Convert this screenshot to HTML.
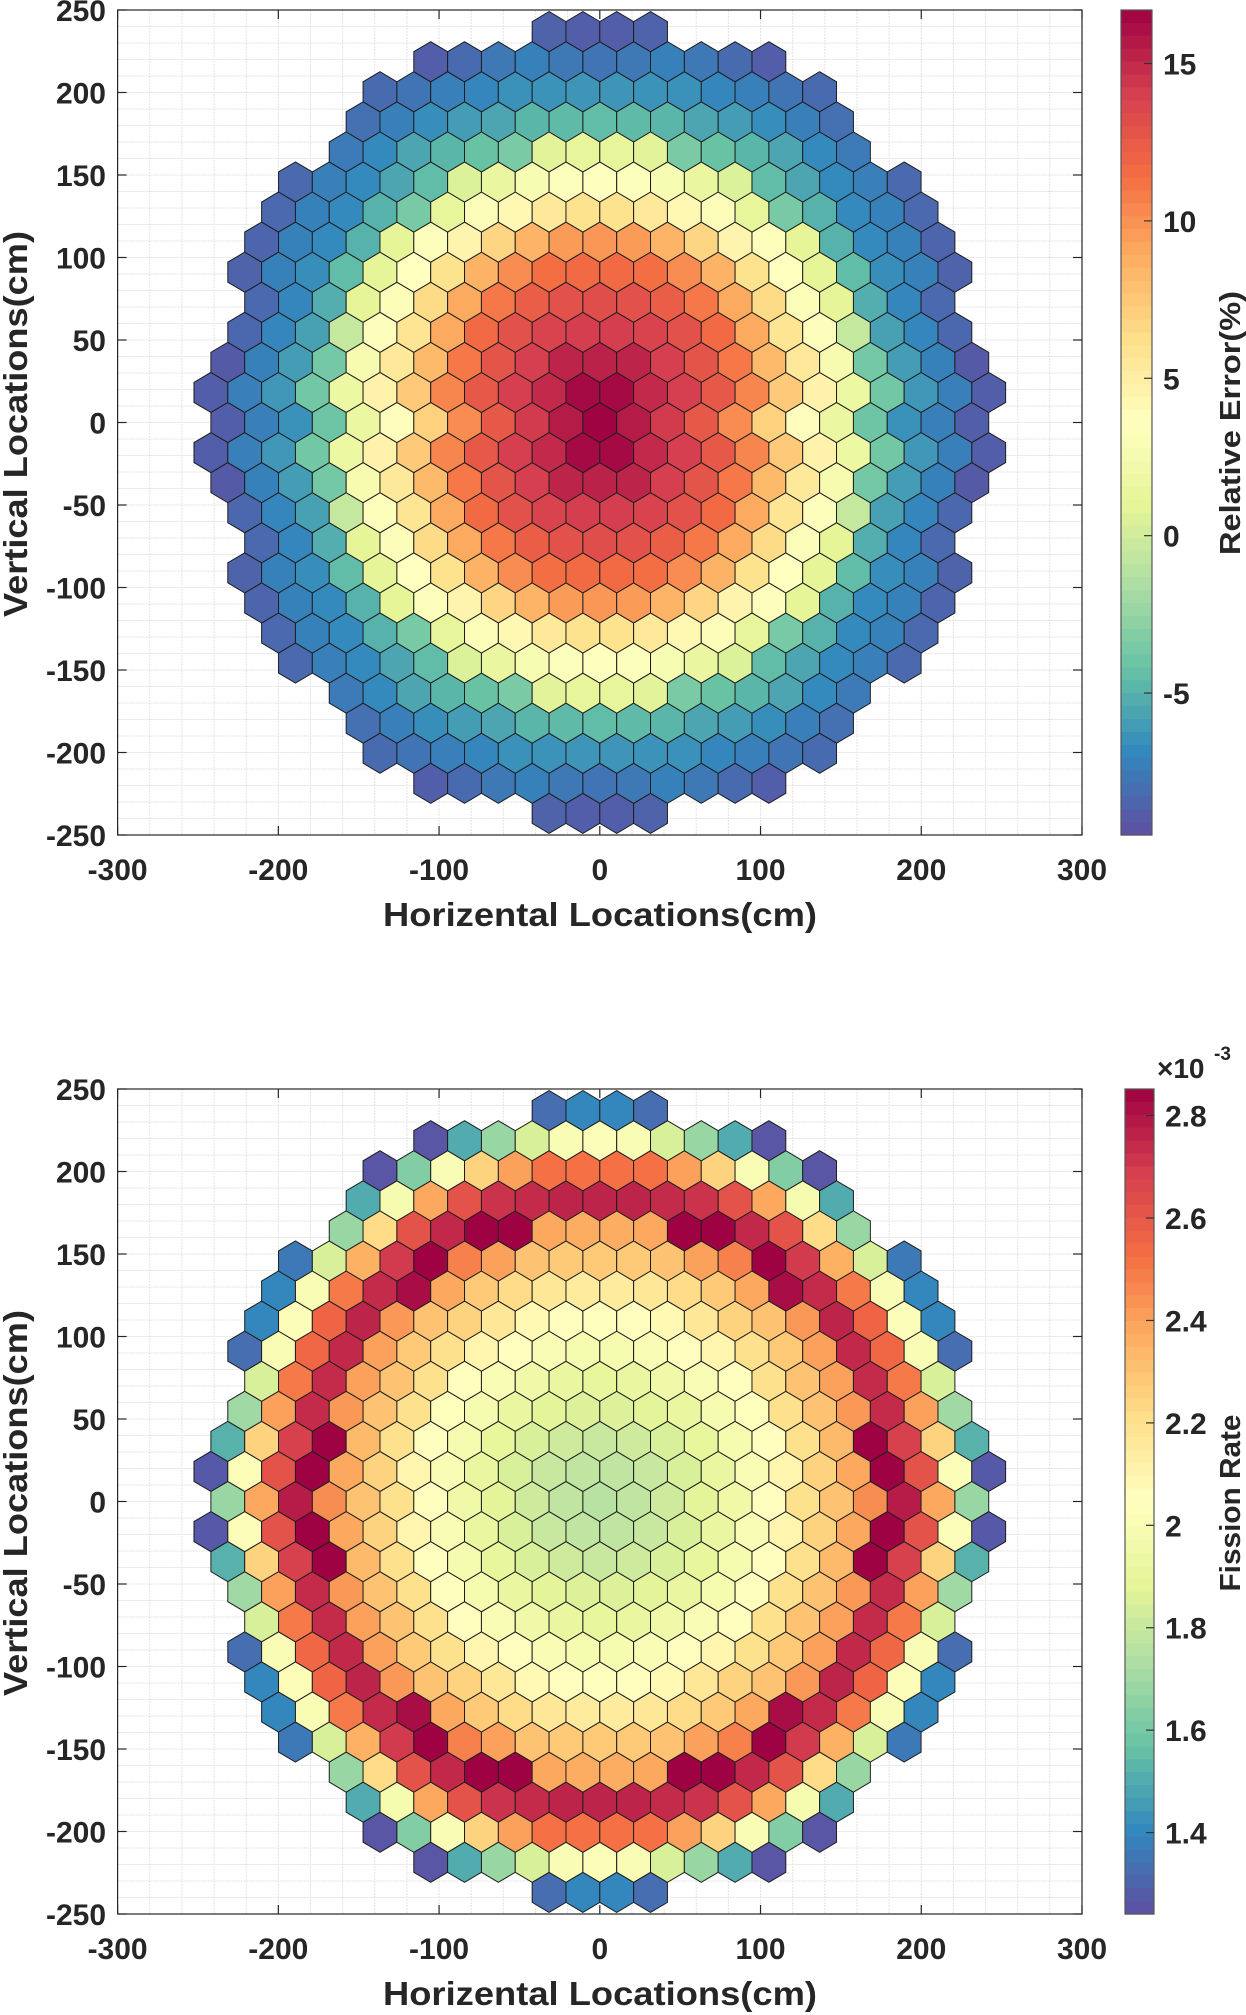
<!DOCTYPE html>
<html><head><meta charset="utf-8"><title>Hex core maps</title>
<style>
html,body{margin:0;padding:0;background:#fff;}
svg{display:block;font-family:"Liberation Sans",Arial,sans-serif;}
text{fill:#262626;font-weight:bold;}
</style></head>
<body>
<svg id="fig" width="1246" height="2015" viewBox="0 0 1246 2015" xmlns="http://www.w3.org/2000/svg">
</svg>
<script>
// ---- shared data ----
const xTicks = [-300,-200,-100,0,100,200,300];
const yTicks = [250,200,150,100,50,0,-50,-100,-150,-200,-250];
// half-width (in pitch units) of each row, indexed by |row|
const rowHalfWidth = [11,11.5,11,10.5,10,10.5,10,9.5,9,7.5,7,6.5,5,1.5];

// top plot: relative error (%) - upper-left quadrant, row |r| = index, from leftmost hex to center
const errRows = [
 [-8.8,-7.3,-6.5,-4.0,1.6,3.8,7.0,10.2,12.6,14.2,15.6,16.6],
 [-8.8,-7.3,-6.2,-3.8,1.7,4.6,7.4,10.5,12.6,14.0,15.0,16.3],
 [-9.0,-7.2,-6.0,-3.7,2.6,5.5,8.2,11.0,12.8,14.0,15.2,15.3],
 [-8.4,-7.0,-5.8,-0.5,3.4,5.8,9.0,11.6,13.0,13.8,14.1],
 [-8.3,-7.0,-5.2,1.0,3.2,6.5,9.0,11.0,12.3,13.0,13.2],
 [-8.6,-7.2,-6.6,-4.5,1.0,3.6,6.0,8.6,10.2,11.4,11.6],
 [-8.5,-7.2,-6.8,-5.0,1.0,3.4,4.5,6.8,8.5,9.6,9.8],
 [-8.3,-7.2,-6.8,-5.0,-3.6,1.2,3.2,4.2,5.5,6.0],
 [-8.3,-7.3,-6.8,-5.6,-4.5,0.5,1.5,2.8,3.3,3.5],
 [-7.5,-6.8,-5.6,-4.8,-4.2,-3.5,0.8,1.2],
 [-8.0,-7.3,-6.6,-6.0,-5.6,-4.8,-4.6,-4.5],
 [-8.2,-7.8,-7.3,-7.0,-6.5,-6.4,-6.3],
 [-8.8,-8.2,-7.6,-7.2,-7.6,-7.8],
 [-8.6,-8.8]
];
// bottom plot: fission rate (x1e-3)
const fisRows = [
 [1.68,2.38,2.78,2.45,2.30,2.20,2.05,1.95,1.88,1.82,1.78,1.76],
 [1.27,2.02,2.62,2.85,2.38,2.25,2.10,2.00,1.92,1.85,1.80,1.78],
 [1.52,2.25,2.68,2.85,2.33,2.20,2.05,1.98,1.90,1.85,1.82,1.80],
 [1.70,2.40,2.74,2.42,2.30,2.20,2.04,1.98,1.92,1.88,1.86],
 [1.85,2.50,2.74,2.40,2.30,2.20,2.05,2.00,1.95,1.92,1.90],
 [1.33,2.00,2.55,2.75,2.40,2.28,2.20,2.10,2.05,2.00,1.98],
 [1.40,2.02,2.56,2.76,2.42,2.30,2.25,2.17,2.08,2.05,2.04],
 [1.40,2.00,2.50,2.74,2.82,2.38,2.28,2.22,2.17,2.15],
 [1.36,1.85,2.36,2.70,2.85,2.48,2.40,2.30,2.28,2.28],
 [1.68,2.22,2.62,2.75,2.85,2.85,2.38,2.37],
 [1.50,1.98,2.38,2.62,2.72,2.74,2.76,2.76],
 [1.26,1.63,2.00,2.25,2.40,2.52,2.52],
 [1.26,1.50,1.68,1.85,2.00,2.02],
 [1.33,1.40]
];
const errCbarTicks = [15,10,5,0,-5];
const fisCbarTicks = [2.8,2.6,2.4,2.2,2,1.8,1.6,1.4];

const SPECTRAL = ['#5e4fa2','#3288bd','#66c2a5','#abdda4','#e6f598','#ffffbf','#fee08b','#fdae61','#f46d43','#d53e4f','#9e0142'];
const NS = 'http://www.w3.org/2000/svg';
const svg = document.getElementById('fig');

function el(tag, attrs, parent){
  const e = document.createElementNS(NS, tag);
  for (const k in attrs) e.setAttribute(k, attrs[k]);
  (parent||svg).appendChild(e);
  return e;
}
function hex2rgb(h){return [parseInt(h.substr(1,2),16),parseInt(h.substr(3,2),16),parseInt(h.substr(5,2),16)];}
function cmap(t){
  t = Math.max(0, Math.min(1, t));
  const f = t*(SPECTRAL.length-1), i = Math.min(Math.floor(f), SPECTRAL.length-2), u = f-i;
  const a = hex2rgb(SPECTRAL[i]), b = hex2rgb(SPECTRAL[i+1]);
  return 'rgb('+a.map((v,j)=>Math.round(v+(b[j]-v)*u)).join(',')+')';
}

const AX_L = 117.6, AX_R = 1082, AX_H = 825;
const PITCH = 21.04, ROWSP = PITCH*Math.sqrt(3)/2, RAD = PITCH/Math.sqrt(3);

function drawPlot(cfg){
  const top = cfg.top, bot = top + AX_H;
  const sx = x => AX_L + (x+300)*(AX_R-AX_L)/600;
  const sy = y => top + (250-y)*AX_H/500;
  const g = el('g', {});
  
  
  // grid
  const grid = el('g', {stroke:'#e2e2e2','stroke-width':1,'stroke-dasharray':'2,1'}, g);
  
  
  for (let x=-280; x<300; x+=20){ el('line',{x1:sx(x),x2:sx(x),y1:top,y2:bot},grid); }
  for (let y=-240; y<250; y+=10){ el('line',{x1:AX_L,x2:AX_R,y1:sy(y),y2:sy(y)},grid); }
  // hexes
  const hg = el('g', {stroke:'#1e1e1e','stroke-width':1}, g);
  
  
  for (let r=-13; r<=13; r++){
    const ar = Math.abs(r), w = rowHalfWidth[ar], cy = r*ROWSP;
    for (let k=-w; k<=w+1e-9; k+=1){
      const idx = Math.round(w - Math.abs(k));
      const v = cfg.rows[ar][idx];
      const cx = k*PITCH;
      const pts = [[0,RAD],[PITCH/2,RAD/2],[PITCH/2,-RAD/2],[0,-RAD],[-PITCH/2,-RAD/2],[-PITCH/2,RAD/2]]
        .map(p=>sx(cx+p[0]).toFixed(2)+','+sy(cy+p[1]).toFixed(2)).join(' ');
      const h = el('polygon',{points:pts, fill:cmap((v-cfg.lo)/(cfg.hi-cfg.lo))}, hg);
      
      
    }
  }
  // box & ticks
  const box = el('rect',{x:AX_L,y:top,width:AX_R-AX_L,height:AX_H,fill:'none',stroke:'#262626','stroke-width':1.2}, g);
  
  
  const tg = el('g',{stroke:'#262626','stroke-width':1.2}, g);
  xTicks.forEach(x=>{
    el('line',{x1:sx(x),x2:sx(x),y1:bot,y2:bot-9},tg);
    el('line',{x1:sx(x),x2:sx(x),y1:top,y2:top+9},tg);
    const t = el('text',{x:sx(x),y:bot+45,'text-anchor':'middle','font-size':30}, g);
    t.textContent = x;
    
    
  });
  yTicks.forEach(y=>{
    el('line',{x1:AX_L,x2:AX_L+9,y1:sy(y),y2:sy(y)},tg);
    el('line',{x1:AX_R,x2:AX_R-9,y1:sy(y),y2:sy(y)},tg);
    const t = el('text',{x:106,y:sy(y)+11,'text-anchor':'end','font-size':30}, g);
    t.textContent = y;
    
    
  });
  const xt = el('text',{x:600,y:bot+91,'text-anchor':'middle','font-size':33,textLength:434,lengthAdjust:'spacingAndGlyphs'}, g);
  xt.textContent = 'Horizental Locations(cm)';
  
  
  const yt = el('text',{x:0,y:0,'text-anchor':'middle','font-size':33,textLength:386,lengthAdjust:'spacingAndGlyphs',transform:'translate(27,'+(top+414)+') rotate(-90)'}, g);
  yt.textContent = 'Vertical Locations(cm)';
  
  
  // colorbar
  const cb = el('g',{}, g);
  
  
  const N = 64, ch = AX_H/N;
  for (let i=0;i<N;i++){
    el('rect',{x:cfg.cbx,y:top+i*ch,width:cfg.cbw,height:ch+0.6,fill:cmap(1-(i+0.5)/N)},cb);
  }
  el('rect',{x:cfg.cbx,y:top,width:cfg.cbw,height:AX_H,fill:'none',stroke:'#555','stroke-width':1.2},cb);
  const cs = v => top + (cfg.hi-v)/(cfg.hi-cfg.lo)*AX_H;
  cfg.cticks.forEach(v=>{
    el('line',{x1:cfg.cbx+cfg.cbw,x2:cfg.cbx+cfg.cbw-8,y1:cs(v),y2:cs(v),stroke:'#333','stroke-width':1.2},cb);
    const t = el('text',{x:cfg.cbx+cfg.cbw+11,y:cs(v)+11,'font-size':30},cb);
    t.textContent = v;
    
    
  });
  const cl = el('text',{x:0,y:0,'text-anchor':'middle','font-size':29,textLength:cfg.clen,lengthAdjust:'spacingAndGlyphs',transform:'translate(1240,'+cfg.cly+') rotate(-90)'},cb);
  cl.textContent = cfg.clabel;
  
  
}

drawPlot({name:'relative-error-map', top:10, rows:errRows, lo:-9.51, hi:16.7, cbx:1121, cbw:31,
  cticks:errCbarTicks, clabel:'Relative Error(%)', clen:264, cly:423});
drawPlot({name:'fission-rate-map', top:1089, rows:fisRows, lo:1.241, hi:2.852, cbx:1125, cbw:29,
  cticks:fisCbarTicks, clabel:'Fission Rate', clen:177, cly:1503});

const ex = el('text',{x:1157,y:1078,'font-size':28});


ex.textContent = '\u00d710';
const ex2 = el('text',{x:1214,y:1060,'font-size':19});


ex2.textContent = '-3';
</script>
</body></html>
